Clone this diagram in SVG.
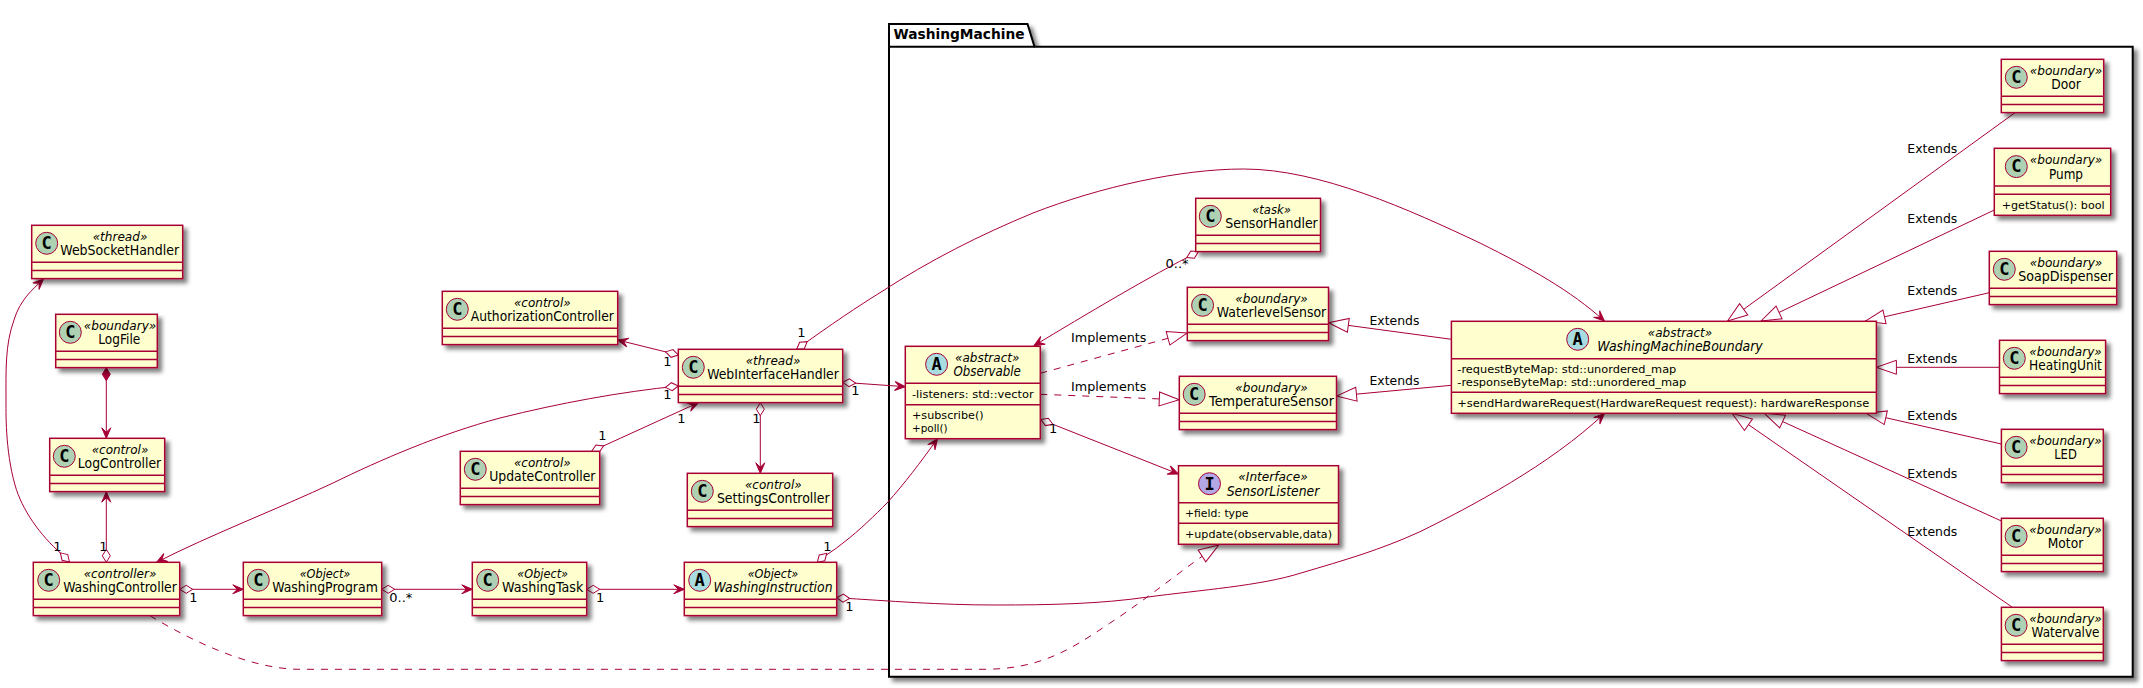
<svg xmlns="http://www.w3.org/2000/svg" width="2143" height="688" viewBox="0 0 2143 688">
<style>
text{font-family:"DejaVu Sans","Liberation Sans",sans-serif;fill:#000}
.box{fill:#FEFECE;stroke:#A80036;stroke-width:1.5;filter:url(#sh)}
.div{stroke:#A80036;stroke-width:1.5}
.cC{fill:#ADD1B2;stroke:#A80036}
.cA{fill:#A9DCDF;stroke:#A80036}
.cI{fill:#B4A7E5;stroke:#A80036}
.g{font-family:"DejaVu Sans Mono","Liberation Mono",monospace;font-weight:bold;font-size:17px;text-anchor:middle}
.st{font-size:12px;font-style:italic;text-anchor:middle}
.nm{font-size:14px;text-anchor:middle}
.ab{font-style:italic}
.mb{font-size:11px}
.lb{font-size:13px}
.link{fill:none;stroke:#A80036;stroke-width:1}
.dash{stroke-dasharray:7 7}
.pk{fill:#fff;stroke:#000;stroke-width:2;filter:url(#sh)}
.pkl{fill:none;stroke:#000;stroke-width:2}
.pkt{font-size:14px;font-weight:bold}
</style>
<defs>
<filter id="sh" x="-5%" y="-5%" width="115%" height="125%">
<feGaussianBlur in="SourceAlpha" stdDeviation="2" result="b"/>
<feColorMatrix in="b" type="matrix" values="0 0 0 0 0 0 0 0 0 0 0 0 0 0 0 0 0 0 .5 0" result="c"/>
<feOffset in="c" dx="4" dy="4" result="o"/>
<feMerge><feMergeNode in="o"/><feMergeNode in="SourceGraphic"/></feMerge>
</filter>
<marker id="arrow" markerUnits="userSpaceOnUse" markerWidth="14" markerHeight="12" refX="12" refY="6" orient="auto" overflow="visible"><path d="M12,6 L1.5,1.5 L6,6 L1.5,10.5 Z" fill="#A80036" stroke="#A80036"/></marker>
<marker id="odia" markerUnits="userSpaceOnUse" markerWidth="15" markerHeight="11" refX="0.5" refY="5.5" orient="auto" overflow="visible"><path d="M0.5,5.5 L7,1.5 L13.5,5.5 L7,9.5 Z" fill="#fff" stroke="#A80036"/></marker>
<marker id="fdia" markerUnits="userSpaceOnUse" markerWidth="15" markerHeight="11" refX="0.5" refY="5.5" orient="auto" overflow="visible"><path d="M0.5,5.5 L7,1.5 L13.5,5.5 L7,9.5 Z" fill="#A80036" stroke="#A80036"/></marker>
<marker id="tri" markerUnits="userSpaceOnUse" markerWidth="23" markerHeight="18" refX="21.5" refY="9" orient="auto" overflow="visible"><path d="M21.5,9 L1.5,2 L1.5,16 Z" fill="#fff" stroke="#A80036"/></marker>
</defs>
<rect width="2143" height="688" fill="#fff"/>

<g id="WashingMachine">
<polygon class="pk" points="889,24 1027.5,24 1034.5,46.7 2132.7,46.7 2132.7,676.7 889,676.7"/>
<line class="pkl" x1="889" y1="46.7" x2="1034.5" y2="46.7"/>
<text class="pkt" x="893.5" y="38.7" textLength="131" lengthAdjust="spacingAndGlyphs">WashingMachine</text>
</g>

<g id="connectors">
<path class="link" marker-start="url(#odia)" marker-end="url(#arrow)" d="M69.5,562 L61,553.5 C40,535 22,510 15,485 C5,450 6,410 6,400 C6,370 5,345 14,320 C20,300 32,290 43.5,279"/>
<path class="link" marker-start="url(#fdia)" marker-end="url(#arrow)" d="M106.3,367.7 L106.3,438.3"/>
<path class="link" marker-start="url(#odia)" marker-end="url(#arrow)" d="M106.3,562.3 L106.3,491.7"/>
<path class="link" marker-start="url(#odia)" marker-end="url(#arrow)" d="M179.7,589.3 L243.3,589.3"/>
<path class="link" marker-start="url(#odia)" marker-end="url(#arrow)" d="M381.7,589.3 L472.3,589.3"/>
<path class="link" marker-start="url(#odia)" marker-end="url(#arrow)" d="M586.7,589.3 L684.3,589.3"/>
<path class="link" marker-start="url(#odia)" marker-end="url(#arrow)" d="M678.3,386 C620,392 560,403 500,418 C440,434 380,460 333,483 C280,508 210,535 156.5,562.3"/>
<path class="link" marker-start="url(#odia)" marker-end="url(#arrow)" d="M678.3,355 L617.7,340"/>
<path class="link" marker-start="url(#odia)" marker-end="url(#arrow)" d="M591.7,451.3 L698.3,402.7"/>
<path class="link" marker-start="url(#odia)" marker-end="url(#arrow)" d="M760.3,402.7 L760.3,473.3"/>
<path class="link" marker-start="url(#odia)" marker-end="url(#arrow)" d="M842.7,382.3 L905.3,386.7"/>
<path class="link" marker-start="url(#odia)" marker-end="url(#arrow)" d="M796.7,349.3 C830,325 860,305 880,292.7 C930,260 980,235 1033,213 C1100,187 1180,169 1243.6,169 C1320,169 1410,210 1480,243 C1530,268 1570,290 1604.4,321"/>
<path class="link" marker-start="url(#odia)" marker-end="url(#arrow)" d="M817.3,562.3 C825,555 835,550 843,543 C860,530 875,515 887,503 C905,483 920,463 937.5,438.7"/>
<path class="link" marker-start="url(#odia)" marker-end="url(#arrow)" d="M836.7,597.7 C890,601 940,605 995,605 C1050,605 1100,604 1148,597 C1200,590 1260,586 1301,573 C1345,560 1380,550 1420,531.7 C1470,507 1550,465 1604.4,413.5"/>
<path class="link" marker-start="url(#odia)" marker-end="url(#arrow)" d="M1198.4,251.7 C1150,276 1085,315 1034,345.7"/>
<path class="link dash" marker-end="url(#tri)" d="M1040.3,373.3 L1187.3,333"/>
<path class="link dash" marker-end="url(#tri)" d="M1040.3,394.3 L1179.3,399.7"/>
<path class="link" marker-start="url(#odia)" marker-end="url(#arrow)" d="M1040.8,419.5 L1178.5,474"/>
<path class="link dash" marker-end="url(#tri)" d="M150,615.7 C190,640 250,669.3 300,669.3 L983,669.3 C1040,669.3 1070,650 1109.6,623.3 C1150,597 1185,567 1218.7,545"/>
<path class="link" marker-end="url(#tri)" d="M1451.4,339.3 L1328.5,322.7"/>
<path class="link" marker-end="url(#tri)" d="M1451.4,385.3 L1336.5,396"/>
<path class="link" marker-end="url(#tri)" d="M2015,112.7 L1727.5,321"/>
<path class="link" marker-end="url(#tri)" d="M1994.3,210 L1761,321"/>
<path class="link" marker-end="url(#tri)" d="M1989.3,292.7 L1865,321.3"/>
<path class="link" marker-end="url(#tri)" d="M1999.5,367.3 L1876.4,367.3"/>
<path class="link" marker-end="url(#tri)" d="M2001.4,444 L1866.3,413.3"/>
<path class="link" marker-end="url(#tri)" d="M2001.4,521 L1764.4,413.3"/>
<path class="link" marker-end="url(#tri)" d="M2012.4,607.3 L1732,413.3"/>
<g class="labels">
<text class="lb" x="53.3" y="551">1</text>
<text class="lb" x="99.3" y="551">1</text>
<text class="lb" x="189.3" y="601.7">1</text>
<text class="lb" x="389.3" y="601.7" textLength="23" lengthAdjust="spacingAndGlyphs">0..*</text>
<text class="lb" x="596" y="601.7">1</text>
<text class="lb" x="663.3" y="399">1</text>
<text class="lb" x="663.3" y="366">1</text>
<text class="lb" x="598.3" y="440">1</text>
<text class="lb" x="677.3" y="422.7">1</text>
<text class="lb" x="752.3" y="423.3">1</text>
<text class="lb" x="851.3" y="395">1</text>
<text class="lb" x="797.3" y="337.3">1</text>
<text class="lb" x="823.3" y="550.7">1</text>
<text class="lb" x="845.3" y="610.7">1</text>
<text class="lb" x="1165.5" y="268.3" textLength="23" lengthAdjust="spacingAndGlyphs">0..*</text>
<text class="lb" x="1049" y="433">1</text>
<text class="lb" x="1071" y="341.7" textLength="75.5" lengthAdjust="spacingAndGlyphs">Implements</text>
<text class="lb" x="1071" y="390.7" textLength="75.5" lengthAdjust="spacingAndGlyphs">Implements</text>
<text class="lb" x="1369.5" y="325" textLength="50" lengthAdjust="spacingAndGlyphs">Extends</text>
<text class="lb" x="1369.5" y="384.7" textLength="50" lengthAdjust="spacingAndGlyphs">Extends</text>
<text class="lb" x="1907.3" y="152.7" textLength="50" lengthAdjust="spacingAndGlyphs">Extends</text>
<text class="lb" x="1907.3" y="222.7" textLength="50" lengthAdjust="spacingAndGlyphs">Extends</text>
<text class="lb" x="1907.3" y="294.7" textLength="50" lengthAdjust="spacingAndGlyphs">Extends</text>
<text class="lb" x="1907.3" y="362.7" textLength="50" lengthAdjust="spacingAndGlyphs">Extends</text>
<text class="lb" x="1907.3" y="419.7" textLength="50" lengthAdjust="spacingAndGlyphs">Extends</text>
<text class="lb" x="1907.3" y="477.7" textLength="50" lengthAdjust="spacingAndGlyphs">Extends</text>
<text class="lb" x="1907.3" y="535.7" textLength="50" lengthAdjust="spacingAndGlyphs">Extends</text>
</g>
</g>

<g id="WebSocketHandler"><rect class="box" x="31.7" y="225.3" width="151" height="53.3"/><line class="div" x1="31.7" x2="182.7" y1="262.3" y2="262.3"/><line class="div" x1="31.7" x2="182.7" y1="270.6" y2="270.6"/><circle class="cC" cx="46.7" cy="243.3" r="11"/><text class="g" x="46.7" y="249">C</text><text class="st" x="120" y="241" textLength="54.7" lengthAdjust="spacingAndGlyphs">«thread»</text><text class="nm" x="119.7" y="255.3" textLength="119" lengthAdjust="spacingAndGlyphs">WebSocketHandler</text></g>
<g id="LogFile"><rect class="box" x="55.7" y="314.3" width="101.6" height="53.3"/><line class="div" x1="55.7" x2="157.3" y1="351.3" y2="351.3"/><line class="div" x1="55.7" x2="157.3" y1="359.6" y2="359.6"/><circle class="cC" cx="70.3" cy="332.3" r="11"/><text class="g" x="70.3" y="338">C</text><text class="st" x="120" y="330" textLength="72.5" lengthAdjust="spacingAndGlyphs">«boundary»</text><text class="nm" x="119.3" y="344.3" textLength="42" lengthAdjust="spacingAndGlyphs">LogFile</text></g>
<g id="LogController"><rect class="box" x="49.7" y="438.3" width="115" height="53.3"/><line class="div" x1="49.7" x2="164.7" y1="475.3" y2="475.3"/><line class="div" x1="49.7" x2="164.7" y1="483.6" y2="483.6"/><circle class="cC" cx="64.3" cy="456.3" r="11"/><text class="g" x="64.3" y="462">C</text><text class="st" x="120" y="454" textLength="56.7" lengthAdjust="spacingAndGlyphs">«control»</text><text class="nm" x="119.5" y="468.3" textLength="83.3" lengthAdjust="spacingAndGlyphs">LogController</text></g>
<g id="WashingController"><rect class="box" x="33.3" y="562.3" width="146.4" height="53.3"/><line class="div" x1="33.3" x2="179.7" y1="599.3" y2="599.3"/><line class="div" x1="33.3" x2="179.7" y1="607.6" y2="607.6"/><circle class="cC" cx="48.7" cy="580.3" r="11"/><text class="g" x="48.7" y="586">C</text><text class="st" x="120" y="578" textLength="72.7" lengthAdjust="spacingAndGlyphs">«controller»</text><text class="nm" x="120" y="592.3" textLength="113.7" lengthAdjust="spacingAndGlyphs">WashingController</text></g>
<g id="WashingProgram"><rect class="box" x="243.3" y="562.3" width="138.4" height="53.3"/><line class="div" x1="243.3" x2="381.7" y1="599.3" y2="599.3"/><line class="div" x1="243.3" x2="381.7" y1="607.6" y2="607.6"/><circle class="cC" cx="258.3" cy="580.3" r="11"/><text class="g" x="258.3" y="586">C</text><text class="st" x="325" y="578" textLength="50.7" lengthAdjust="spacingAndGlyphs">«Object»</text><text class="nm" x="325" y="592.3" textLength="105.7" lengthAdjust="spacingAndGlyphs">WashingProgram</text></g>
<g id="WashingTask"><rect class="box" x="472.3" y="562.3" width="114.4" height="53.3"/><line class="div" x1="472.3" x2="586.7" y1="599.3" y2="599.3"/><line class="div" x1="472.3" x2="586.7" y1="607.6" y2="607.6"/><circle class="cC" cx="487.7" cy="580.3" r="11"/><text class="g" x="487.7" y="586">C</text><text class="st" x="542.7" y="578" textLength="50.7" lengthAdjust="spacingAndGlyphs">«Object»</text><text class="nm" x="542.7" y="592.3" textLength="81.3" lengthAdjust="spacingAndGlyphs">WashingTask</text></g>
<g id="WashingInstruction"><rect class="box" x="684.3" y="562.3" width="152.4" height="53.3"/><line class="div" x1="684.3" x2="836.7" y1="599.3" y2="599.3"/><line class="div" x1="684.3" x2="836.7" y1="607.6" y2="607.6"/><circle class="cA" cx="699.7" cy="580.3" r="11"/><text class="g" x="699.7" y="586">A</text><text class="st" x="773" y="578" textLength="50.7" lengthAdjust="spacingAndGlyphs">«Object»</text><text class="nm ab" x="773" y="592.3" textLength="119" lengthAdjust="spacingAndGlyphs">WashingInstruction</text></g>
<g id="AuthorizationController"><rect class="box" x="442.3" y="291.3" width="175.4" height="53.3"/><line class="div" x1="442.3" x2="617.7" y1="328.3" y2="328.3"/><line class="div" x1="442.3" x2="617.7" y1="336.6" y2="336.6"/><circle class="cC" cx="457.3" cy="309.3" r="11"/><text class="g" x="457.3" y="315">C</text><text class="st" x="542.3" y="307" textLength="56.7" lengthAdjust="spacingAndGlyphs">«control»</text><text class="nm" x="542.3" y="321.3" textLength="143" lengthAdjust="spacingAndGlyphs">AuthorizationController</text></g>
<g id="WebInterfaceHandler"><rect class="box" x="678.3" y="349.3" width="164.4" height="53.3"/><line class="div" x1="678.3" x2="842.7" y1="386.3" y2="386.3"/><line class="div" x1="678.3" x2="842.7" y1="394.6" y2="394.6"/><circle class="cC" cx="693.3" cy="367.3" r="11"/><text class="g" x="693.3" y="373">C</text><text class="st" x="773" y="365" textLength="54.7" lengthAdjust="spacingAndGlyphs">«thread»</text><text class="nm" x="773" y="379.3" textLength="131.7" lengthAdjust="spacingAndGlyphs">WebInterfaceHandler</text></g>
<g id="UpdateController"><rect class="box" x="460.3" y="451.3" width="139.4" height="53.3"/><line class="div" x1="460.3" x2="599.7" y1="488.3" y2="488.3"/><line class="div" x1="460.3" x2="599.7" y1="496.6" y2="496.6"/><circle class="cC" cx="475.3" cy="469.3" r="11"/><text class="g" x="475.3" y="475">C</text><text class="st" x="542.3" y="467" textLength="56.7" lengthAdjust="spacingAndGlyphs">«control»</text><text class="nm" x="542.3" y="481.3" textLength="106.3" lengthAdjust="spacingAndGlyphs">UpdateController</text></g>
<g id="SettingsController"><rect class="box" x="687.3" y="473.3" width="145.4" height="53.3"/><line class="div" x1="687.3" x2="832.7" y1="510.3" y2="510.3"/><line class="div" x1="687.3" x2="832.7" y1="518.6" y2="518.6"/><circle class="cC" cx="702.3" cy="491.3" r="11"/><text class="g" x="702.3" y="497">C</text><text class="st" x="773.3" y="489" textLength="56.7" lengthAdjust="spacingAndGlyphs">«control»</text><text class="nm" x="773.3" y="503.3" textLength="112.7" lengthAdjust="spacingAndGlyphs">SettingsController</text></g>
<g id="SensorHandler"><rect class="box" x="1195.7" y="198.3" width="124.8" height="53.3"/><line class="div" x1="1195.7" x2="1320.5" y1="235.3" y2="235.3"/><line class="div" x1="1195.7" x2="1320.5" y1="243.6" y2="243.6"/><circle class="cC" cx="1210.3" cy="216.3" r="11"/><text class="g" x="1210.3" y="222">C</text><text class="st" x="1271.5" y="214" textLength="38.7" lengthAdjust="spacingAndGlyphs">«task»</text><text class="nm" x="1271.5" y="228.3" textLength="92.6" lengthAdjust="spacingAndGlyphs">SensorHandler</text></g>
<g id="WaterlevelSensor"><rect class="box" x="1187.3" y="287.3" width="141.2" height="53.3"/><line class="div" x1="1187.3" x2="1328.5" y1="324.3" y2="324.3"/><line class="div" x1="1187.3" x2="1328.5" y1="332.6" y2="332.6"/><circle class="cC" cx="1202.6" cy="305.3" r="11"/><text class="g" x="1202.6" y="311">C</text><text class="st" x="1271.5" y="303" textLength="72.5" lengthAdjust="spacingAndGlyphs">«boundary»</text><text class="nm" x="1271.5" y="317.3" textLength="109.5" lengthAdjust="spacingAndGlyphs">WaterlevelSensor</text></g>
<g id="Observable"><rect class="box" x="905.3" y="346.3" width="135" height="92.4"/><line class="div" x1="905.3" x2="1040.3" y1="383.3" y2="383.3"/><line class="div" x1="905.3" x2="1040.3" y1="404.7" y2="404.7"/><circle class="cA" cx="936.6" cy="364.3" r="11"/><text class="g" x="936.6" y="370">A</text><text class="st" x="987.2" y="362" textLength="64.3" lengthAdjust="spacingAndGlyphs">«abstract»</text><text class="nm ab" x="987.2" y="376.3" textLength="67.4" lengthAdjust="spacingAndGlyphs">Observable</text><text class="mb" x="912" y="398" textLength="121.7" lengthAdjust="spacingAndGlyphs">-listeners: std::vector</text><text class="mb" x="912" y="419" textLength="71.6" lengthAdjust="spacingAndGlyphs">+subscribe()</text><text class="mb" x="912" y="432" textLength="35.6" lengthAdjust="spacingAndGlyphs">+poll()</text></g>
<g id="TemperatureSensor"><rect class="box" x="1179.3" y="376.3" width="157.2" height="53.3"/><line class="div" x1="1179.3" x2="1336.5" y1="413.3" y2="413.3"/><line class="div" x1="1179.3" x2="1336.5" y1="421.6" y2="421.6"/><circle class="cC" cx="1194.2" cy="394.3" r="11"/><text class="g" x="1194.2" y="400">C</text><text class="st" x="1271.5" y="392" textLength="72.5" lengthAdjust="spacingAndGlyphs">«boundary»</text><text class="nm" x="1271.5" y="406.3" textLength="124.8" lengthAdjust="spacingAndGlyphs">TemperatureSensor</text></g>
<g id="SensorListener"><rect class="box" x="1178.5" y="465.7" width="160" height="78.6"/><line class="div" x1="1178.5" x2="1338.5" y1="502.7" y2="502.7"/><line class="div" x1="1178.5" x2="1338.5" y1="523.3" y2="523.3"/><circle class="cI" cx="1209.5" cy="483.7" r="11"/><text class="g" x="1209.5" y="489.5">I</text><text class="st" x="1273" y="481.4" textLength="69.3" lengthAdjust="spacingAndGlyphs">«Interface»</text><text class="nm ab" x="1273" y="495.7" textLength="92.6" lengthAdjust="spacingAndGlyphs">SensorListener</text><text class="mb" x="1185" y="516.7" textLength="63.5" lengthAdjust="spacingAndGlyphs">+field: type</text><text class="mb" x="1185" y="537.7" textLength="147" lengthAdjust="spacingAndGlyphs">+update(observable,data)</text></g>
<g id="WashingMachineBoundary"><rect class="box" x="1451.4" y="321.3" width="425" height="92"/><line class="div" x1="1451.4" x2="1876.4" y1="358.7" y2="358.7"/><line class="div" x1="1451.4" x2="1876.4" y1="392.3" y2="392.3"/><circle class="cA" cx="1577.7" cy="339.3" r="11"/><text class="g" x="1577.7" y="345">A</text><text class="st" x="1680" y="337" textLength="64.3" lengthAdjust="spacingAndGlyphs">«abstract»</text><text class="nm ab" x="1680" y="351.3" textLength="165.5" lengthAdjust="spacingAndGlyphs">WashingMachineBoundary</text><text class="mb" x="1457.3" y="373" textLength="219" lengthAdjust="spacingAndGlyphs">-requestByteMap: std::unordered_map</text><text class="mb" x="1457.3" y="386" textLength="229" lengthAdjust="spacingAndGlyphs">-responseByteMap: std::unordered_map</text><text class="mb" x="1457.3" y="407" textLength="412" lengthAdjust="spacingAndGlyphs">+sendHardwareRequest(HardwareRequest request): hardwareResponse</text></g>
<g id="Door"><rect class="box" x="2001.3" y="59.3" width="102.4" height="53.3"/><line class="div" x1="2001.3" x2="2103.7" y1="96.3" y2="96.3"/><line class="div" x1="2001.3" x2="2103.7" y1="104.6" y2="104.6"/><circle class="cC" cx="2016.3" cy="77.3" r="11"/><text class="g" x="2016.3" y="83">C</text><text class="st" x="2066" y="75" textLength="72.5" lengthAdjust="spacingAndGlyphs">«boundary»</text><text class="nm" x="2066" y="89.3" textLength="29.7" lengthAdjust="spacingAndGlyphs">Door</text></g>
<g id="Pump"><rect class="box" x="1994.3" y="148.3" width="116.4" height="67"/><line class="div" x1="1994.3" x2="2110.7" y1="186" y2="186"/><line class="div" x1="1994.3" x2="2110.7" y1="194.3" y2="194.3"/><circle class="cC" cx="2016.3" cy="166.6" r="11"/><text class="g" x="2016.3" y="172.3">C</text><text class="st" x="2066" y="164.3" textLength="72.5" lengthAdjust="spacingAndGlyphs">«boundary»</text><text class="nm" x="2066" y="178.6" textLength="34" lengthAdjust="spacingAndGlyphs">Pump</text><text class="mb" x="2001.7" y="208.7" textLength="103" lengthAdjust="spacingAndGlyphs">+getStatus(): bool</text></g>
<g id="SoapDispenser"><rect class="box" x="1989.3" y="251.3" width="127.4" height="53.3"/><line class="div" x1="1989.3" x2="2116.7" y1="288.3" y2="288.3"/><line class="div" x1="1989.3" x2="2116.7" y1="296.6" y2="296.6"/><circle class="cC" cx="2004.3" cy="269.3" r="11"/><text class="g" x="2004.3" y="275">C</text><text class="st" x="2066" y="267" textLength="72.5" lengthAdjust="spacingAndGlyphs">«boundary»</text><text class="nm" x="2065.7" y="281.3" textLength="94.7" lengthAdjust="spacingAndGlyphs">SoapDispenser</text></g>
<g id="HeatingUnit"><rect class="box" x="1999.5" y="340.3" width="106.1" height="53.3"/><line class="div" x1="1999.5" x2="2105.6" y1="377.3" y2="377.3"/><line class="div" x1="1999.5" x2="2105.6" y1="385.6" y2="385.6"/><circle class="cC" cx="2014.3" cy="358.3" r="11"/><text class="g" x="2014.3" y="364">C</text><text class="st" x="2065.5" y="356" textLength="72.5" lengthAdjust="spacingAndGlyphs">«boundary»</text><text class="nm" x="2065.5" y="370.3" textLength="72.8" lengthAdjust="spacingAndGlyphs">HeatingUnit</text></g>
<g id="LED"><rect class="box" x="2001.4" y="429.3" width="101.9" height="53.3"/><line class="div" x1="2001.4" x2="2103.3" y1="466.3" y2="466.3"/><line class="div" x1="2001.4" x2="2103.3" y1="474.6" y2="474.6"/><circle class="cC" cx="2016.1" cy="447.3" r="11"/><text class="g" x="2016.1" y="453">C</text><text class="st" x="2065.5" y="445" textLength="72.5" lengthAdjust="spacingAndGlyphs">«boundary»</text><text class="nm" x="2065.5" y="459.3" textLength="22.6" lengthAdjust="spacingAndGlyphs">LED</text></g>
<g id="Motor"><rect class="box" x="2001.4" y="518.3" width="101.9" height="53.3"/><line class="div" x1="2001.4" x2="2103.3" y1="555.3" y2="555.3"/><line class="div" x1="2001.4" x2="2103.3" y1="563.6" y2="563.6"/><circle class="cC" cx="2016.1" cy="536.3" r="11"/><text class="g" x="2016.1" y="542">C</text><text class="st" x="2065.5" y="534" textLength="72.5" lengthAdjust="spacingAndGlyphs">«boundary»</text><text class="nm" x="2065.5" y="548.3" textLength="35.5" lengthAdjust="spacingAndGlyphs">Motor</text></g>
<g id="Watervalve"><rect class="box" x="2001.4" y="607.3" width="101.9" height="53.3"/><line class="div" x1="2001.4" x2="2103.3" y1="644.3" y2="644.3"/><line class="div" x1="2001.4" x2="2103.3" y1="652.6" y2="652.6"/><circle class="cC" cx="2016.1" cy="625.3" r="11"/><text class="g" x="2016.1" y="631">C</text><text class="st" x="2065.5" y="623" textLength="72.5" lengthAdjust="spacingAndGlyphs">«boundary»</text><text class="nm" x="2065.5" y="637.3" textLength="67.8" lengthAdjust="spacingAndGlyphs">Watervalve</text></g>
</svg>
